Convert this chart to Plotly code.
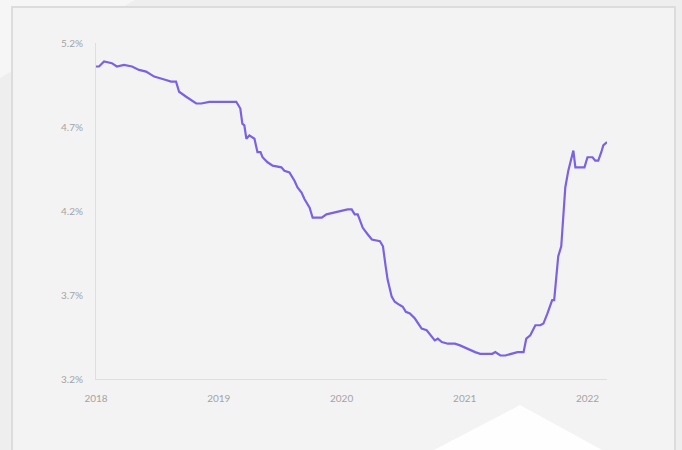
import plotly.graph_objects as go

# Weekly-ish rate series, 2018 through early 2022
dates = [
    "2018-01-01", "2018-01-10", "2018-01-25", "2018-02-17", "2018-03-04", "2018-03-25",
    "2018-04-18", "2018-05-09", "2018-05-30", "2018-06-23", "2018-07-28", "2018-08-12",
    "2018-08-27", "2018-09-05", "2018-09-26", "2018-10-26", "2018-11-10", "2018-12-04",
    "2019-01-08", "2019-02-10", "2019-02-22", "2019-03-06", "2019-03-12", "2019-03-18",
    "2019-03-24", "2019-04-02", "2019-04-17", "2019-04-26", "2019-05-05", "2019-05-11",
    "2019-05-26", "2019-06-10", "2019-07-06", "2019-07-15", "2019-07-30", "2019-08-14",
    "2019-08-23", "2019-09-04", "2019-09-13", "2019-09-28", "2019-10-07", "2019-10-19",
    "2019-11-03", "2019-11-17", "2019-12-11", "2020-01-19", "2020-01-31", "2020-02-09",
    "2020-02-18", "2020-03-04", "2020-03-19", "2020-03-31", "2020-04-24", "2020-05-03",
    "2020-05-11", "2020-05-17", "2020-05-29", "2020-06-07", "2020-06-22", "2020-07-01",
    "2020-07-10", "2020-07-22", "2020-08-06", "2020-08-26", "2020-09-10", "2020-09-25",
    "2020-10-04", "2020-10-13", "2020-10-25", "2020-11-12", "2020-12-03", "2020-12-18",
    "2021-01-08", "2021-02-01", "2021-02-16", "2021-03-24", "2021-04-02", "2021-04-17",
    "2021-05-02", "2021-05-23", "2021-06-07", "2021-06-25", "2021-07-03", "2021-07-15",
    "2021-07-30", "2021-08-14", "2021-08-23", "2021-09-04", "2021-09-18", "2021-09-24",
    "2021-10-06", "2021-10-15", "2021-10-21", "2021-10-27", "2021-11-05", "2021-11-20",
    "2021-11-26", "2021-12-11", "2021-12-23", "2022-01-01", "2022-01-16", "2022-01-24",
    "2022-02-02", "2022-02-11", "2022-02-17", "2022-02-28",
]
rates = [
    5.06, 5.06, 5.09, 5.08, 5.06, 5.07,
    5.06, 5.04, 5.03, 5.00, 4.98, 4.97,
    4.97, 4.91, 4.88, 4.84, 4.84, 4.85,
    4.85, 4.85, 4.85, 4.81, 4.72, 4.71,
    4.63, 4.65, 4.63, 4.55, 4.55, 4.52,
    4.49, 4.47, 4.46, 4.44, 4.43, 4.38,
    4.34, 4.31, 4.27, 4.22, 4.16, 4.16,
    4.16, 4.18, 4.19, 4.21, 4.21, 4.18,
    4.18, 4.10, 4.06, 4.03, 4.02, 3.99,
    3.87, 3.79, 3.69, 3.66, 3.64, 3.63,
    3.60, 3.59, 3.56, 3.50, 3.49, 3.45,
    3.43, 3.44, 3.42, 3.41, 3.41, 3.40,
    3.38, 3.36, 3.35, 3.35, 3.36, 3.34,
    3.34, 3.35, 3.36, 3.36, 3.44, 3.46,
    3.52, 3.52, 3.53, 3.59, 3.67, 3.67,
    3.93, 3.99, 4.19, 4.34, 4.44, 4.56,
    4.46, 4.46, 4.46, 4.52, 4.52, 4.50,
    4.50, 4.55, 4.59, 4.61,
]

y_ticks = [3.2, 3.7, 4.2, 4.7, 5.2]
y_tick_labels = ["3.2%", "3.7%", "4.2%", "4.7%", "5.2%"]
x_ticks = ["2018-01-01", "2019-01-01", "2020-01-01", "2021-01-01", "2022-01-01"]
x_tick_labels = ["2018", "2019", "2020", "2021", "2022"]

W, H = 682, 450
L, R, T, B = 96, 607, 43, 379  # plot area in pixels


def px(x):
    return (x - L) / (R - L)


def py(y):
    return (B - y) / (B - T)


def path(points):
    return "M " + " L ".join(f"{px(a):.4f},{py(b):.4f}" for a, b in points) + " Z"


fig = go.Figure()
fig.add_trace(go.Scatter(
    x=dates, y=rates, mode="lines",
    line=dict(color="#7b62e0", width=2.2),
    hoverinfo="skip",
))

shapes = [
    # faint light streak in the top-left corner
    dict(type="path", xref="paper", yref="paper", layer="below",
         path=path([(0, 0), (135, 0), (0, 78)]),
         fillcolor="rgba(255,255,255,0.45)", line=dict(width=0)),
    # card
    dict(type="rect", xref="paper", yref="paper", layer="below",
         x0=px(12), x1=px(675), y0=py(470), y1=py(7),
         fillcolor="#f4f3f4", line=dict(color="#dcdcdd", width=2)),
    # soft white triangle at the bottom
    dict(type="path", xref="paper", yref="paper", layer="below",
         path=path([(430, 452), (520, 405), (606, 452)]),
         fillcolor="rgba(255,255,255,0.85)", line=dict(width=0)),
]

axis_font = dict(family="Lato, 'Open Sans', sans-serif", size=10, color="#a3a3a3")

fig.update_layout(
    width=W, height=H,
    margin=dict(l=L, r=W - R, t=T, b=H - B, pad=0),
    paper_bgcolor="#eeeeee",
    plot_bgcolor="rgba(0,0,0,0)",
    showlegend=False,
    shapes=shapes,
    xaxis=dict(
        range=["2018-01-01", "2022-02-28"],
        tickvals=x_ticks, ticktext=x_tick_labels,
        showgrid=False, zeroline=False,
        showline=True, linecolor="#dedede", linewidth=1,
        ticks="", ticklabelstandoff=10,
        tickfont=axis_font,
    ),
    yaxis=dict(
        range=[3.2, 5.2],
        tickvals=y_ticks, ticktext=y_tick_labels,
        showgrid=False, zeroline=False,
        showline=True, linecolor="#dedede", linewidth=1,
        ticks="", ticklabelstandoff=10,
        tickfont=axis_font,
    ),
)

fig.write_html("out.html")
